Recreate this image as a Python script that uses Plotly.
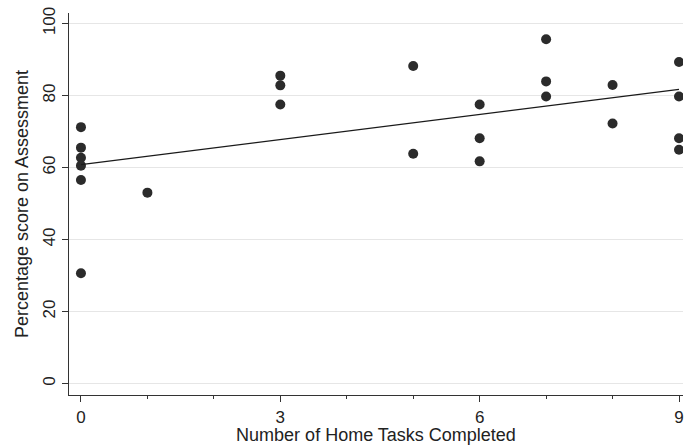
import plotly.graph_objects as go

tasks = [0, 0, 0, 0, 0, 0, 1, 3, 3, 3, 5, 5, 6, 6, 6, 7, 7, 7, 8, 8, 9, 9, 9, 9]
scores = [71.2, 65.5, 62.7, 60.5, 56.5, 30.6, 53.0, 85.5, 82.8, 77.5, 88.2, 63.8,
          77.5, 68.1, 61.7, 95.6, 83.9, 79.7, 82.9, 72.2, 89.3, 79.7, 68.1, 64.9]
fit_x = [0, 9]
fit_y = [60.8, 81.7]
x_ticks = [0, 3, 6, 9]
y_ticks = [0, 20, 40, 60, 80, 100]

fig = go.Figure()
fig.add_trace(go.Scatter(x=tasks, y=scores, mode="markers",
                         marker=dict(size=10, color="#2b2b2b"), showlegend=False))
fig.add_trace(go.Scatter(x=fit_x, y=fit_y, mode="lines",
                         line=dict(color="#1a1a1a", width=1.3), showlegend=False))

font = "Liberation Sans, Arial, sans-serif"
fig.update_layout(
    width=686, height=445,
    margin=dict(l=69, r=3, t=13, b=50, autoexpand=False),
    paper_bgcolor="white", plot_bgcolor="white",
    font=dict(family=font, color="#222"),
    xaxis=dict(range=[-0.18, 9.06], tickvals=x_ticks, ticks="outside", ticklen=6,
               tickcolor="#333", showline=True, linecolor="#333", linewidth=1.2,
               showgrid=False, zeroline=False, tickfont=dict(size=17), automargin=False,
               minor=dict(dtick=1, tick0=0, ticks="outside", ticklen=3, tickcolor="#333", showgrid=False),
               title=dict(text="Number of Home Tasks Completed", font=dict(size=18), standoff=2)),
    yaxis=dict(range=[-3.2, 102.9], tickvals=y_ticks, ticks="outside", ticklen=6,
               tickcolor="#333", showline=True, linecolor="#333", linewidth=1.2,
               showgrid=True, gridcolor="#e6e6e6", gridwidth=1, zeroline=False,
               tickangle=-90, tickfont=dict(size=17), automargin=False,
               title=dict(text="Percentage score on Assessment", font=dict(size=18), standoff=6)),
)
fig.write_html("out.html", config={"displayModeBar": False},
               post_script="document.body.style.margin='0px';")
